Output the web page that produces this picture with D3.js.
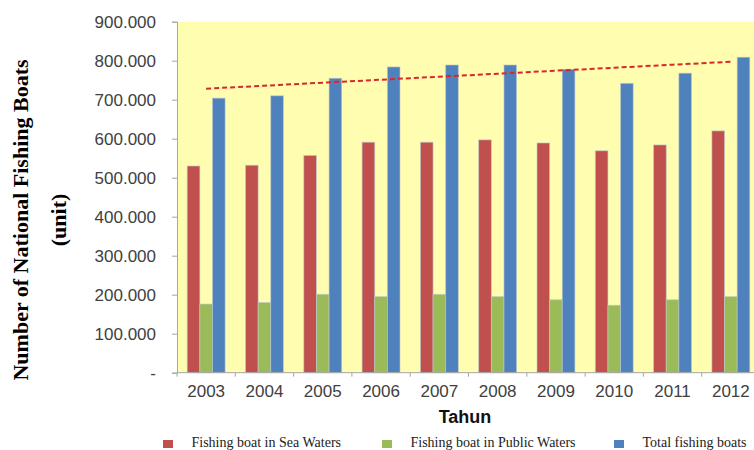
<!DOCTYPE html>
<html>
<head>
<meta charset="utf-8">
<script src="https://cdn.jsdelivr.net/npm/d3@7"></script>
<style>
  html, body { margin: 0; padding: 0; background: #ffffff; }
  svg { display: block; }
</style>
</head>
<body>
<svg id="chart" width="754" height="450"></svg>
<script>
// Fishing boats by year (units)
const years = ["2003", "2004", "2005", "2006", "2007", "2008", "2009", "2010", "2011", "2012"];
const seaWaters    = [530000, 532000, 557000, 591000, 591000, 597000, 589000, 569000, 584000, 620000];
const publicWaters = [176000, 180000, 201000, 195000, 201000, 195000, 187000, 173000, 187000, 195000];
const totalBoats   = [704000, 710000, 755000, 784000, 789000, 789000, 778000, 742000, 768000, 809000];

const seriesNames  = ["Fishing boat in Sea Waters", "Fishing boat in Public Waters", "Total fishing boats"];
const seriesColors = ["#C0504D", "#9BBB59", "#4F81BD"];
const yTickValues  = [0, 100000, 200000, 300000, 400000, 500000, 600000, 700000, 800000, 900000];

const seriesValues = [seaWaters, publicWaters, totalBoats];

const svg = d3.select("#chart");

const plot = { left: 177, right: 760, top: 21.7, bottom: 372.7 };

const x0 = d3.scaleBand()
  .domain(years)
  .range([plot.left, plot.right])
  .paddingInner(0.35)
  .paddingOuter(0.175);

const x1 = d3.scaleBand()
  .domain(d3.range(seriesNames.length))
  .range([0, x0.bandwidth()]);

const y = d3.scaleLinear()
  .domain([0, 900000])
  .range([plot.bottom, plot.top]);

// plot background
svg.append("rect")
  .attr("x", plot.left)
  .attr("y", plot.top)
  .attr("width", plot.right - plot.left)
  .attr("height", plot.bottom - plot.top)
  .attr("fill", "#FFFDAF");

// bars
const groups = svg.append("g").selectAll("g")
  .data(years)
  .join("g")
  .attr("transform", d => `translate(${x0(d)},0)`);

groups.selectAll("rect")
  .data((d, i) => seriesValues.map((vals, s) => ({ s, v: vals[i] })))
  .join("rect")
  .attr("x", d => x1(d.s))
  .attr("width", x1.bandwidth())
  .attr("y", d => y(d.v))
  .attr("height", d => y(0) - y(d.v))
  .attr("fill", d => seriesColors[d.s])
  .attr("stroke", "rgba(190,200,210,0.75)")
  .attr("stroke-width", 0.8);

// linear trend of total boats
const xs = years.map((d, i) => i);
const xMean = d3.mean(xs);
const yMean = d3.mean(totalBoats);
const slope = d3.sum(xs, (xi, i) => (xi - xMean) * (totalBoats[i] - yMean)) /
              d3.sum(xs, xi => (xi - xMean) * (xi - xMean));
const intercept = yMean - slope * xMean;
const trend = xs.map(xi => ({ year: years[xi], v: intercept + slope * xi }));

svg.append("path")
  .datum(trend)
  .attr("fill", "none")
  .attr("stroke", "#D8282A")
  .attr("stroke-width", 2)
  .attr("stroke-dasharray", "5,3")
  .attr("d", d3.line()
    .x(d => x0(d.year) + x0.bandwidth() / 2)
    .y(d => y(d.v)));

// y axis
const fmt = v => v === 0 ? "-" : d3.format(",.0f")(v / 1000).replace(/,/g, ".") + ".000";
const yAxis = svg.append("g")
  .attr("transform", `translate(${plot.left},0)`)
  .call(d3.axisLeft(y).tickValues(yTickValues).tickSize(5).tickPadding(16).tickFormat(fmt));
yAxis.select(".domain").attr("stroke", "#A6A6A6");
yAxis.selectAll(".tick line").attr("stroke", "#A6A6A6");
yAxis.selectAll(".tick text")
  .attr("fill", "#404040")
  .style("font-family", "'Liberation Sans', Arial, sans-serif")
  .style("font-size", "17px");

// x axis with ticks at category boundaries
const xAxis = svg.append("g")
  .attr("transform", `translate(0,${plot.bottom})`);
xAxis.append("line")
  .attr("x1", plot.left).attr("x2", plot.right)
  .attr("stroke", "#A6A6A6");
xAxis.selectAll(".bound")
  .data(years.concat(["end"]))
  .join("line")
  .attr("class", "bound")
  .attr("x1", (d, i) => plot.left + i * x0.step())
  .attr("x2", (d, i) => plot.left + i * x0.step())
  .attr("y1", 0).attr("y2", 4)
  .attr("stroke", "#A6A6A6");
xAxis.selectAll(".lbl")
  .data(years)
  .join("text")
  .attr("class", "lbl")
  .attr("x", d => x0(d) + x0.bandwidth() / 2)
  .attr("y", 24)
  .attr("text-anchor", "middle")
  .attr("fill", "#404040")
  .style("font-family", "'Liberation Sans', Arial, sans-serif")
  .style("font-size", "17px")
  .text(d => d);

// axis titles
svg.append("text")
  .attr("x", 465)
  .attr("y", 423)
  .attr("text-anchor", "middle")
  .attr("fill", "#111")
  .style("font-family", "'Liberation Sans', Arial, sans-serif")
  .style("font-size", "18px")
  .style("font-weight", "bold")
  .text("Tahun");

const yTitle = svg.append("text")
  .attr("transform", "translate(28,220) rotate(-90)")
  .attr("text-anchor", "middle")
  .attr("fill", "#000")
  .style("font-family", "'Liberation Serif', 'Times New Roman', serif")
  .style("font-size", "22px")
  .style("font-weight", "bold");
yTitle.append("tspan").attr("x", 0).attr("dy", 0).text("Number of National Fishing Boats");
yTitle.append("tspan").attr("x", 0).attr("dy", 38).text("(unit)");

// legend
const legendX = [163, 382, 614];
const legend = svg.append("g").selectAll("g")
  .data(seriesNames)
  .join("g")
  .attr("transform", (d, i) => `translate(${legendX[i]},440)`);
legend.append("rect")
  .attr("width", 10).attr("height", 8)
  .attr("fill", (d, i) => seriesColors[i]);
legend.append("text")
  .attr("x", 28.5)
  .attr("y", 7)
  .attr("fill", "#222")
  .style("font-family", "'Liberation Serif', 'Times New Roman', serif")
  .style("font-size", "14px")
  .text(d => d);
</script>
</body>
</html>
